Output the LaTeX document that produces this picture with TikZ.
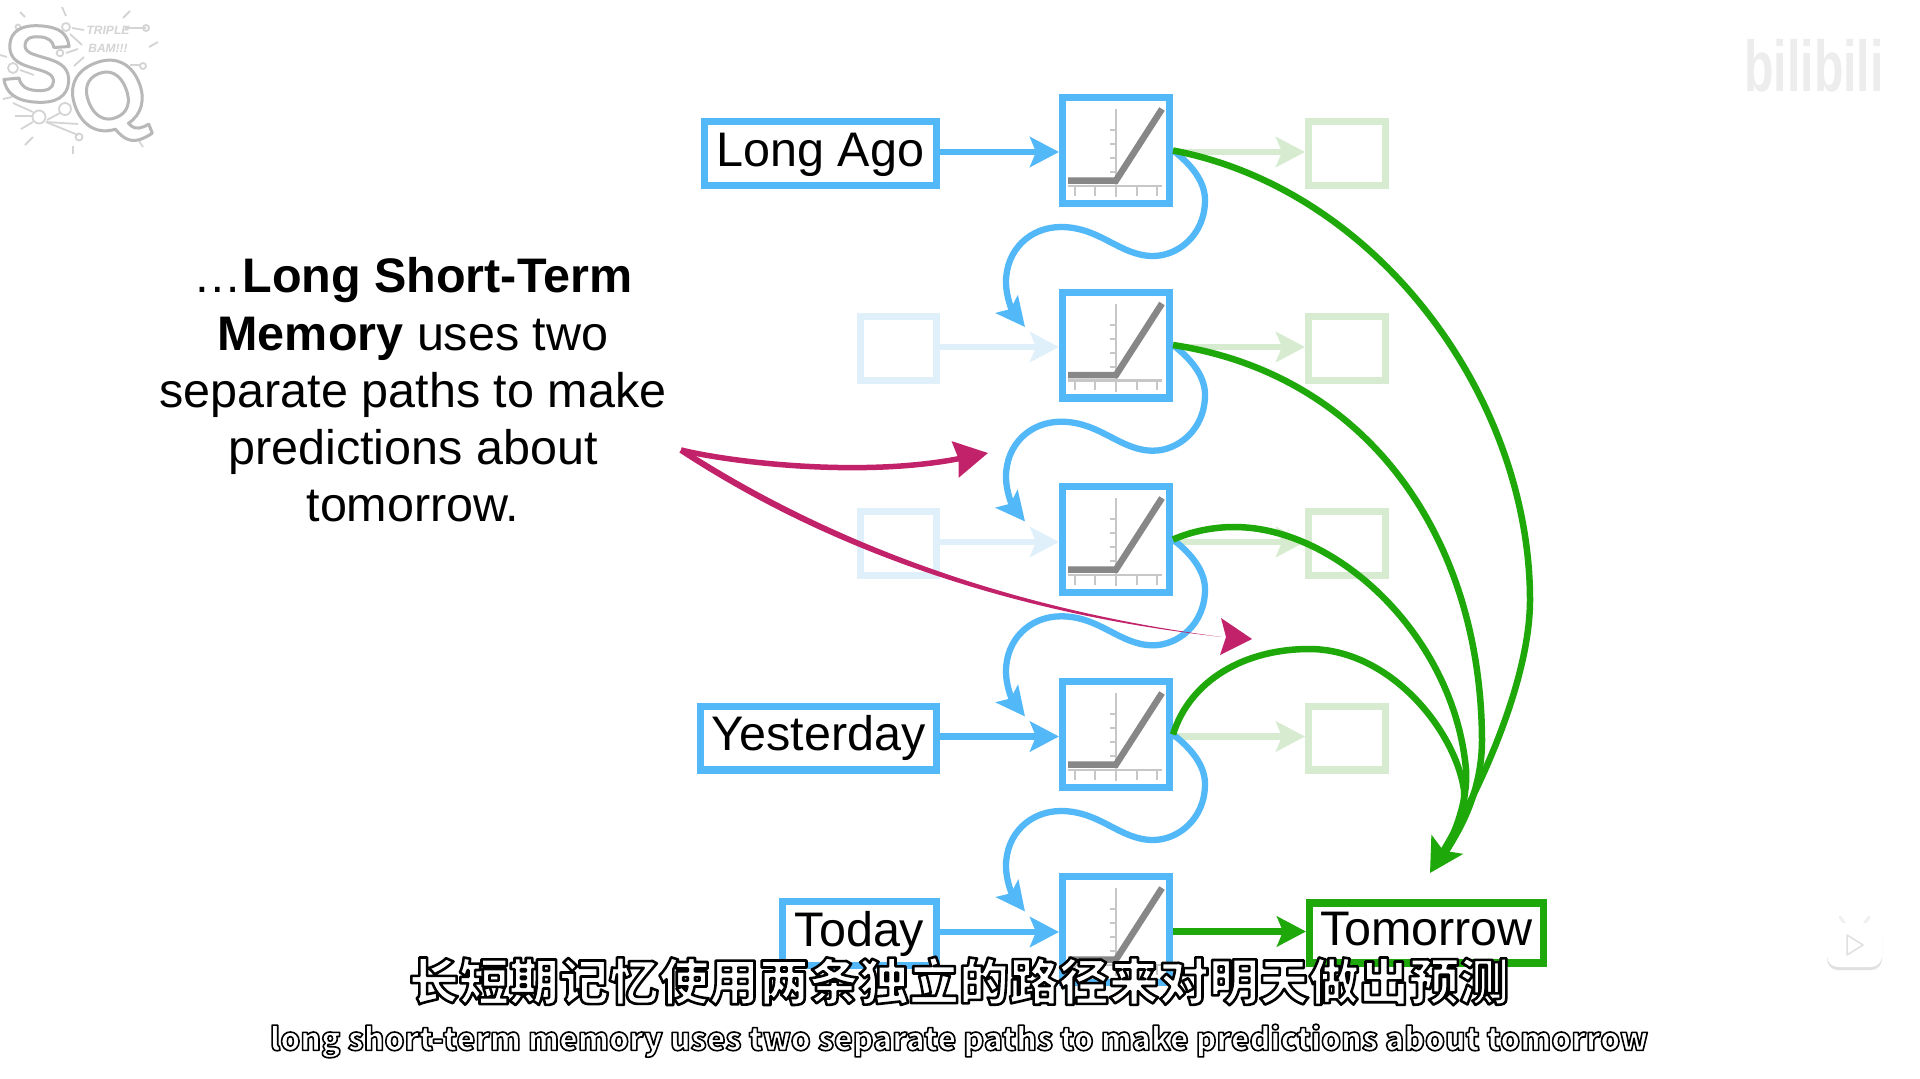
\documentclass[tikz,border=0pt]{standalone}
\usepackage{fontspec}
\usetikzlibrary{arrows.meta,calc}
\setmainfont{Liberation Sans}
\newfontfamily\cjkfont{Noto Sans CJK SC}
\definecolor{sqblue}{HTML}{52B8F8}
\definecolor{sqgreen}{HTML}{1FA80A}
\definecolor{fadeblue}{HTML}{E0F0FB}
\definecolor{fadegreen}{HTML}{D6EBCF}
\definecolor{sqpink}{HTML}{C2226A}
\definecolor{logogray}{HTML}{D4D4D4}
\newcommand{\outlinetext}[3]{\special{pdf:code 2 Tr 1 j #2 w #1 RG}#3\special{pdf:code 0 Tr}}
\tikzset{
  fbox/.style={draw=sqblue,line width=7.3pt,fill=white,minimum width=106.7pt,minimum height=105.7pt,inner sep=0pt},
  lbox/.style={draw=sqblue,line width=7.3pt,fill=white,minimum height=63.7pt,inner sep=0pt,text height=35pt,text depth=10pt,font=\fontsize{48.5}{50}\selectfont},
  flbox/.style={draw=fadeblue,line width=7.3pt,fill=white,minimum width=75.7pt,minimum height=63.7pt,inner sep=0pt},
  frbox/.style={draw=fadegreen,line width=7.3pt,fill=white,minimum width=76.7pt,minimum height=63.7pt,inner sep=0pt},
  tbox/.style={draw=sqgreen,line width=7.3pt,fill=white,minimum width=233.7pt,minimum height=60pt,inner sep=0pt,text height=35pt,text depth=10pt,font=\fontsize{48.5}{50}\selectfont},
  flow/.style={line width=6.5pt,-{Stealth[length=29pt,width=30pt,inset=6pt]}},
  wave/.style={draw=sqblue,line width=6.3pt,-{Stealth[length=29pt,width=28pt,inset=6pt]}},
  green curve/.style={draw=sqgreen,line width=6.5pt},
  pink tip/.style={-{Stealth[length=33pt,width=36pt,inset=3pt]}},
  axisline/.style={draw=black!22,line width=2.6pt},
  ticks/.style={draw=black!22,line width=2pt},
  ramp/.style={draw=black!47,line width=6.5pt},
  lg/.style={draw=logogray,line width=1.8pt},
}
\begin{document}
\begin{tikzpicture}[x=1pt,y=-1pt]
\useasboundingbox[fill=white] (0,0) rectangle (1920,1079);
% row nodes
\foreach \i/\yy in {1/150.5,2/345,3/539.5,4/734.5,5/929.5}{
  \node[fbox] (f\i) at (1116,\yy) {};
}
\node[lbox,minimum width=231.7pt] (l1) at (820.5,153.5) {Long Ago};
\node[flbox] (l2) at (898.5,348.5) {};
\node[flbox] (l3) at (898.5,543.5) {};
\node[lbox,minimum width=235.7pt] (l4) at (818.5,738) {Yesterday};
\node[lbox,minimum width=153.7pt] (l5) at (859.5,933.5) {Today};
\node[frbox] (r1) at (1347,153.5) {};
\node[frbox] (r2) at (1347,348.5) {};
\node[frbox] (r3) at (1347,543.5) {};
\node[frbox] (r4) at (1347,738) {};
\node[tbox] (tm) at (1426.5,933) {Tomorrow};
% curve end points
\foreach \j in {2,3,4,5}{
  \coordinate (t\j) at ($(f\j.west)+(-34,-18)$);
}
\coordinate (gtip) at (1430,873);
\coordinate (gin) at (1441,858);
\coordinate (ms) at (681,450);
\coordinate (m1) at (988,453);
\coordinate (m2) at (1252,639);
% graph glyphs
\foreach \i in {1,...,5}{
  \begin{scope}[shift={(f\i.center)}]
    \draw[axisline] (0,-41.5) -- (0,46.5);
    \draw[axisline] (-48,35.5) -- (46,35.5);
    \foreach \tx in {-41,-21,21,41}{\draw[ticks] (\tx,35.5) -- (\tx,45);}
    \foreach \ty in {-20.5,-6.5,7.5,21.5}{\draw[ticks] (-6,\ty) -- (0,\ty);}
    \draw[ramp] (-48,30) -- (0,30) -- (46,-41.5);
  \end{scope}
}
% input arrows
\draw[flow,draw=sqblue] ([yshift=1.5pt]l1.east) -- ([yshift=1.5pt]l1.east -| f1.west);
\draw[flow,draw=fadeblue] ([yshift=1.5pt]l2.east) -- ([yshift=1.5pt]l2.east -| f2.west);
\draw[flow,draw=fadeblue] ([yshift=1.5pt]l3.east) -- ([yshift=1.5pt]l3.east -| f3.west);
\draw[flow,draw=sqblue] ([yshift=1.5pt]l4.east) -- ([yshift=1.5pt]l4.east -| f4.west);
\draw[flow,draw=sqblue] ([yshift=1.5pt]l5.east) -- ([yshift=1.5pt]l5.east -| f5.west);
% output arrows
\foreach \i in {1,2,3,4}{
  \draw[flow,draw=fadegreen] ([yshift=1.5pt]r\i.west -| f\i.east) -- ([yshift=1.5pt]r\i.west);
}
\draw[flow,draw=sqgreen] ([yshift=1.5pt]tm.west -| f5.east) -- ([yshift=1.5pt]tm.west);
% wavy memory paths
\foreach \i/\j/\dy in {1/2/0,2/3/194.7,3/4/389.3,4/5/584}{
  \begin{scope}[shift={(0,\dy)}]
    \draw[wave] (f\i.east)
      .. controls (1196,168) and (1205,185) .. (1205,200)
      .. controls (1205,235) and (1178,256) .. (1153,256)
      .. controls (1120,256) and (1100,227) .. (1061,227)
      .. controls (1030,227) and (1006,250) .. (1006,282)
      .. controls (1006,298) and (1013,312) .. (t\j);
  \end{scope}
}
% green paths to Tomorrow
\draw[green curve,-{Stealth[length=33pt,width=36pt,inset=7pt]}] (f1.east)
  .. controls (1380,190) and (1530,400) .. (1530,600)
  .. controls (1530,680) and (1480,790) .. (gtip);
\draw[green curve] (f2.east)
  .. controls (1370,375) and (1481,540) .. (1482,740)
  .. controls (1482,785) and (1465,825) .. (gin);
\draw[green curve] (f3.east)
  .. controls (1190,532) and (1212,527) .. (1234,527)
  .. controls (1340,527) and (1455,640) .. (1466,770)
  .. controls (1468,800) and (1455,835) .. (gin);
\draw[green curve] (f4.east)
  .. controls (1190,680) and (1245,649) .. (1309,649)
  .. controls (1390,649) and (1455,730) .. (1464,790)
  .. controls (1466,815) and (1455,840) .. (gin);
% pink arrows
\draw[draw=sqpink,line width=5.5pt,pink tip] (ms)
  .. controls (730,462) and (860,478) .. (m1);
\fill[sqpink] (682.6,447.5) .. controls (852,557) and (1041,613.5) .. (1222,637)
  .. controls (1040,617) and (848,563) .. (679.4,452.5) -- cycle;
\fill[sqpink] (m2) -- (1221,618) -- (1226,637) -- (1220,655) -- cycle;
% caption
\node[align=center,font=\fontsize{48.5}{57.3}\selectfont] (cap) at (413,390)
  {…\textbf{Long Short-Term}\\ \textbf{Memory} uses two\\ separate paths to make\\ predictions about\\ tomorrow.};
% subtitles
\node[inner sep=0pt,font=\cjkfont\bfseries\fontsize{50}{54}\selectfont,text=white] (subzh) at (959,981)
  {\outlinetext{0 0 0}{2.6}{长短期记忆使用两条独立的路径来对明天做出预测}};
\node[inner sep=0pt,font=\cjkfont\bfseries\fontsize{31.5}{36}\selectfont,text=white] (suben) at (959,1041)
  {\outlinetext{0 0 0}{1.6}{long short-term memory uses two separate paths to make predictions about tomorrow}};
% logo
\foreach \ax/\ay/\bx/\by in {20/12/25/17,62/7/66/16,123/18/130/11,149/47/158/42,0/55/7/57,3/99/12/97,25/145/33/137,73/154/73/146,143/147/139/141,
  13/103/33/112,15/116/33/116,21/129/33/122,46/122/78/124,47/120/60/113,46/122/78/135,72/28/84/30,70/34/82/45,66/53/78/49,74/66/84/57,20/70/34/75,130/65/140/65,125/28/146/28}{
  \draw[lg] (\ax,\ay) -- (\bx,\by);
}
\foreach \cx/\cy/\cr in {66/27/4,18/27/2.5,60/53/3.3,13/68/5,39/117/6.5,65/109/6,79/137/3.5,147/131/5,146/28/3,143/66/3}{
  \draw[lg] (\cx,\cy) circle (\cr);
}
\node[inner sep=0pt,rotate=-4,font=\bfseries\fontsize{108}{108}\selectfont,text=white] (logos) at (38,64)
  {\outlinetext{0.72 0.72 0.72}{3}{S}};
\node[inner sep=0pt,rotate=22,font=\bfseries\fontsize{98}{98}\selectfont,text=white] (logoq) at (111,104)
  {\outlinetext{0.72 0.72 0.72}{3}{Q}};
\node[inner sep=0pt,font=\bfseries\itshape\fontsize{12}{12}\selectfont,text=logogray] (logot1) at (108,30) {TRIPLE};
\node[inner sep=0pt,font=\bfseries\itshape\fontsize{12}{12}\selectfont,text=logogray] (logot2) at (108,48) {BAM!!!};
% bilibili mark
\node[inner sep=0pt,text=black!7,font=\bfseries\fontsize{72}{72}\selectfont] (bili) at (1814,66) {\scalebox{.67}[1]{bilibili}};
% player icon
\fill[black!12,rounded corners=11pt] (1827,925) rectangle (1882,970);
\draw[black!6,line width=3pt,line cap=round] (1845,924) -- (1840,917);
\draw[black!6,line width=3pt,line cap=round] (1864,924) -- (1869,917);
\fill[white,rounded corners=11pt] (1827,923) rectangle (1882,967);
\draw[black!12,fill=white,line width=1.5pt,line join=round] (1847,935) -- (1863,945) -- (1847,955) -- cycle;
\end{tikzpicture}
\end{document}
